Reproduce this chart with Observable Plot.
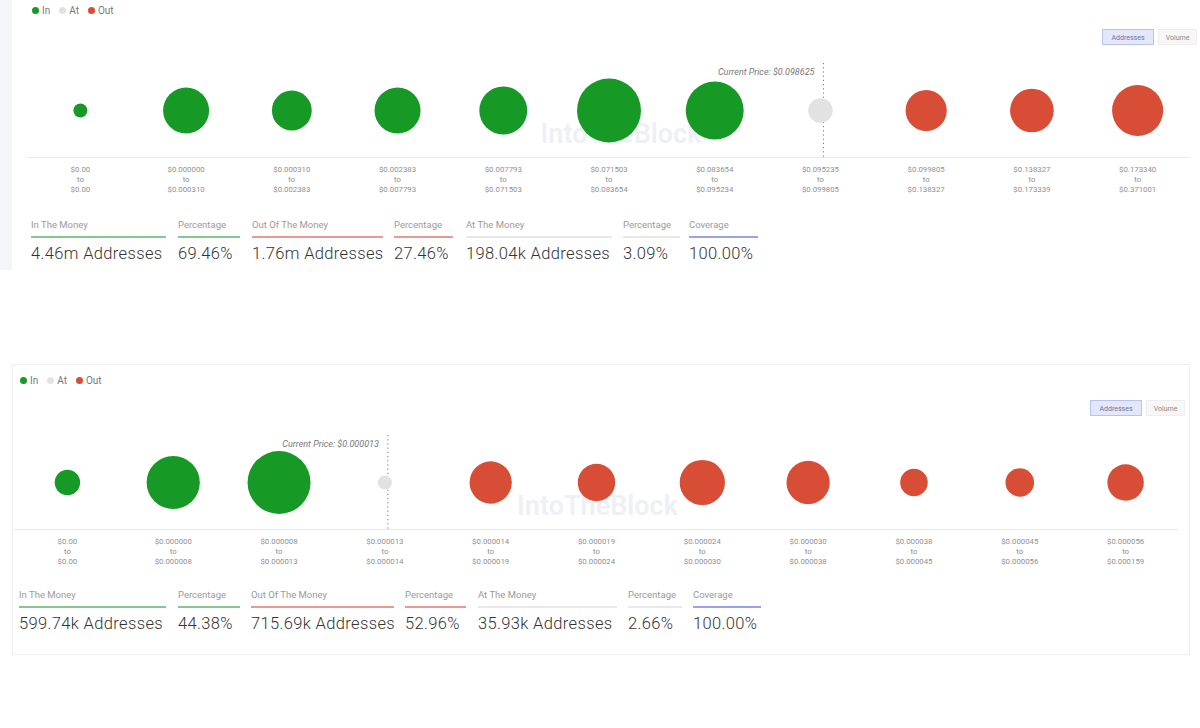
<!DOCTYPE html>
<html>
<head>
<meta charset="utf-8">
<script src="https://cdn.jsdelivr.net/npm/d3@7"></script>
<script src="https://cdn.jsdelivr.net/npm/@observablehq/plot@0.6"></script>
<style>
  html, body { margin: 0; padding: 0; background: #fff; }
  body { width: 1200px; height: 728px; position: relative; overflow: hidden; font-family: Roboto, "Noto Sans", sans-serif; }
  .abs { position: absolute; }
  .strip { left: 0; top: 0; width: 12px; height: 270px; background: #f4f5f9; }
  .panel2 { left: 12px; top: 364px; width: 1178px; height: 291px; border: 1px solid #eeeff3; box-sizing: border-box; }
  .legend { font-size: 10px; color: #777; display: flex; align-items: center; gap: 4px; }
  .legend .dot { width: 7px; height: 7px; border-radius: 50%; display: inline-block; }
  .legend .item { display: inline-flex; align-items: center; gap: 3px; margin-right: 5px; }
  .btn { font-size: 7px; color: #888; height: 16px; line-height: 16px; text-align: center; box-sizing: border-box; border: 1px solid #eeeeee; background: #f7f7f7; }
  .btn.on { background: #e3e7fa; border: 1px solid #b9c2ef; color: #6c74a8; }
  .lab { font-size: 9.5px; color: #9a9a9a; white-space: nowrap; }
  .bar { height: 2px; }
  .val { font-size: 16.5px; font-weight: 300; color: #333; white-space: nowrap; letter-spacing: 0.35px; }
  svg text { font-family: Roboto, "Noto Sans", sans-serif; }
</style>
</head>
<body>
<div class="abs strip"></div>
<div class="abs panel2"></div>
<div id="root"></div>
<script>
// ---------- data ----------
const statuses = ["In", "At", "Out"];
const statusColors = ["#169a25", "#e2e2e2", "#d84d35"];

// Panel 1
const topFrom = ["$0.00", "$0.000000", "$0.000310", "$0.002383", "$0.007793", "$0.071503", "$0.083654", "$0.095235", "$0.099805", "$0.138327", "$0.173340"];
const topTo   = ["$0.00", "$0.000310", "$0.002383", "$0.007793", "$0.071503", "$0.083654", "$0.095234", "$0.099805", "$0.138327", "$0.173339", "$0.371001"];
const topAddresses = [55, 600, 450, 600, 650, 1160, 950, 170, 480, 540, 740]; // thousands
const topStatus = ["In", "In", "In", "In", "In", "In", "In", "At", "Out", "Out", "Out"];
const topCurrentPrice = "Current Price: $0.098625";
const topStatLabels = ["In The Money", "Percentage", "Out Of The Money", "Percentage", "At The Money", "Percentage", "Coverage"];
const topStatValues = ["4.46m Addresses", "69.46%", "1.76m Addresses", "27.46%", "198.04k Addresses", "3.09%", "100.00%"];

// Panel 2
const botFrom = ["$0.00", "$0.000000", "$0.000008", "$0.000013", "$0.000014", "$0.000019", "$0.000024", "$0.000030", "$0.000038", "$0.000045", "$0.000056"];
const botTo   = ["$0.00", "$0.000008", "$0.000013", "$0.000014", "$0.000019", "$0.000024", "$0.000030", "$0.000038", "$0.000045", "$0.000056", "$0.000159"];
const botAddresses = [52, 228, 320, 16, 144, 113, 165, 151, 61, 66, 107]; // thousands
const botStatus = ["In", "In", "In", "At", "Out", "Out", "Out", "Out", "Out", "Out", "Out"];
const botCurrentPrice = "Current Price: $0.000013";
const botStatLabels = ["In The Money", "Percentage", "Out Of The Money", "Percentage", "At The Money", "Percentage", "Coverage"];
const botStatValues = ["599.74k Addresses", "44.38%", "715.69k Addresses", "52.96%", "35.93k Addresses", "2.66%", "100.00%"];

const statBarColors = ["#86c690", "#86c690", "#eb9a93", "#eb9a93", "#e8e8ea", "#e8e8ea", "#9aa1ee"];

// ---------- helpers ----------
const root = document.getElementById("root");
function add(html, cls, style) {
  const d = document.createElement("div");
  d.className = "abs " + (cls || "");
  Object.assign(d.style, style);
  d.innerHTML = html;
  root.appendChild(d);
  return d;
}

function legend(left, top) {
  const html = statuses.map((s, i) =>
    `<span class="item"><span class="dot" style="background:${statusColors[i]}"></span>${s}</span>`).join("");
  add(html, "legend", {left: left + "px", top: top + "px"});
}

function buttons(left, top) {
  add("Addresses", "btn on", {left: left + "px", top: top + "px", width: "52px"});
  add("Volume", "btn", {left: (left + 56) + "px", top: top + "px", width: "39px"});
}

function stats(labels, values, cols, top) {
  labels.forEach((l, i) => {
    const [x, w] = cols[i];
    add(l, "lab", {left: x + "px", top: top + "px"});
    add("", "bar", {left: x + "px", top: (top + 17) + "px", width: w + "px", background: statBarColors[i]});
    add(values[i], "val", {left: x + "px", top: (top + 25) + "px"});
  });
}

function bubblePanel(from, to, addresses, status, currentText, opts) {
  const data = from.map((f, i) => ({range: f + "\nto\n" + to[i], value: addresses[i], status: status[i]}));
  const atRange = data.find(d => d.status === "At").range;
  const chart = Plot.plot({
    width: 1200,
    height: 152,
    marginTop: 13,
    marginBottom: 45,
    marginLeft: opts.ml,
    marginRight: opts.mr,
    x: {type: "point", domain: data.map(d => d.range), label: null, round: false},
    y: {domain: [0, 1], axis: null},
    r: {domain: [0, opts.rmax], range: [0, opts.rpx]},
    color: {domain: statuses, range: statusColors},
    style: {background: "transparent", overflow: "visible"},
    marks: [
      Plot.text(["IntoTheBlock"], {frameAnchor: "middle", dx: opts.wdx, dy: 24, fontSize: 27, fontWeight: 600, fill: "#eef0f5"}),
      Plot.ruleY([0], {stroke: "#e6e8f6", strokeWidth: 1.2}),
      Plot.ruleX([atRange], {dx: 3, stroke: "#777", strokeDasharray: "1.2,3", strokeWidth: 1}),
      Plot.text([currentText], {x: () => atRange, frameAnchor: "top", textAnchor: "end", dx: -6, dy: 5, fontSize: 9, fontStyle: "italic", fill: "#777"}),
      Plot.dot(data, {x: "range", r: "value", fill: "status", frameAnchor: "middle"}),
      Plot.axisX({tickSize: 0, tickPadding: 7, fontSize: 7.8, lineHeight: 1.28, fill: "#8f8f8f", tickFormat: d => d})
    ]
  });
  const wrap = add("", "", {left: "0px", top: opts.top + "px"});
  wrap.appendChild(chart);
}

// ---------- panel 1 ----------
legend(32, 5);
buttons(1102, 29);
bubblePanel(topFrom, topTo, topAddresses, topStatus, topCurrentPrice,
  {top: 50, ml: 27, mr: 10, rmax: 1160, rpx: 32, wdx: 12});
stats(topStatLabels, topStatValues,
  [[31, 135], [178, 62], [252, 131], [394, 59], [466, 146], [623, 57], [689, 69]], 219);

// ---------- panel 2 ----------
legend(20, 375);
buttons(1090, 400);
bubblePanel(botFrom, botTo, botAddresses, botStatus, botCurrentPrice,
  {top: 422, ml: 14, mr: 22, rmax: 320, rpx: 31.5, wdx: 1});
stats(botStatLabels, botStatValues,
  [[19, 147], [178, 62], [251, 143], [405, 61], [478, 139], [628, 54], [693, 68]], 589);
</script>
</body>
</html>
